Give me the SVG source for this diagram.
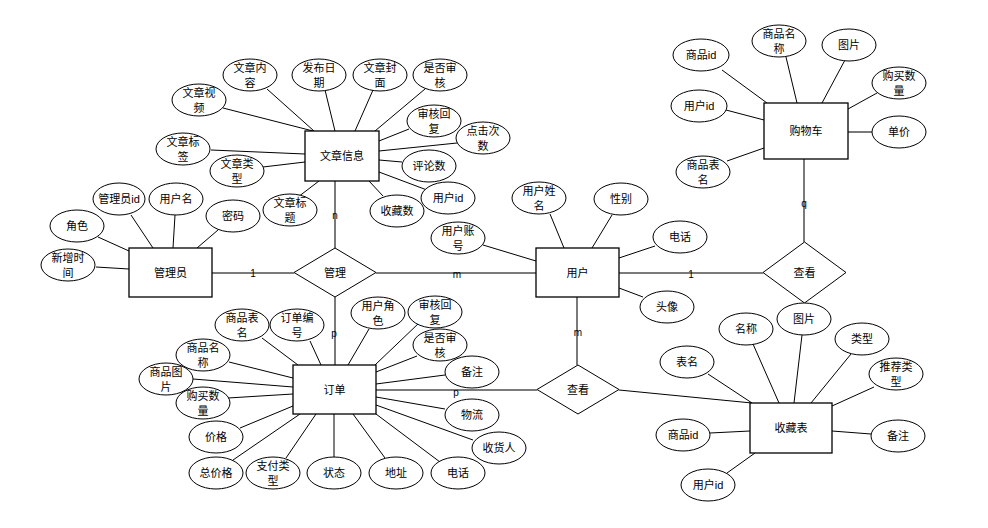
<svg xmlns="http://www.w3.org/2000/svg" width="988" height="528" viewBox="0 0 988 528">
<style>
text{font-family:"Liberation Sans","Noto Sans CJK SC",sans-serif;font-size:11px;fill:#000;text-anchor:middle;dominant-baseline:central}
.lbl{font-size:10px}
ellipse{fill:#fff;stroke:#000;stroke-width:1}
rect.e{fill:#fff;stroke:#000;stroke-width:1.3}
polygon.r{fill:#fff;stroke:#000;stroke-width:1}
.a{stroke:#000;stroke-width:1;fill:none}
.rel{stroke:#7a7a7a;stroke-width:2;fill:none}
</style>
<rect width="988" height="528" fill="#fff"/>
<g id="connectors">
<line class="rel" x1="335" y1="181" x2="335" y2="248"/>
<line class="rel" x1="212" y1="273" x2="294" y2="273"/>
<line class="rel" x1="376" y1="273" x2="536" y2="273"/>
<line class="rel" x1="335" y1="297" x2="335" y2="365"/>
<line class="rel" x1="619" y1="273" x2="763" y2="273"/>
<line class="rel" x1="804" y1="159" x2="804" y2="242"/>
<line class="rel" x1="577" y1="297" x2="577" y2="365"/>
<line class="rel" x1="376" y1="390" x2="537" y2="390"/>
<line class="a" x1="619" y1="390" x2="752" y2="403"/>
<line class="rel" x1="848" y1="132" x2="873" y2="132"/>
<!-- article -->
<line class="a" x1="223" y1="108" x2="313" y2="131"/>
<line class="a" x1="267" y1="89" x2="314" y2="131"/>
<line class="a" x1="325" y1="90" x2="335" y2="131"/>
<line class="a" x1="373" y1="90" x2="355" y2="131"/>
<line class="a" x1="425" y1="89" x2="375" y2="131"/>
<line class="a" x1="409" y1="129" x2="379" y2="141"/>
<line class="a" x1="457" y1="143" x2="379" y2="151"/>
<line class="a" x1="402" y1="162" x2="379" y2="160"/>
<line class="a" x1="427" y1="190" x2="379" y2="172"/>
<line class="a" x1="383" y1="196" x2="369" y2="181"/>
<line class="a" x1="298" y1="197" x2="319" y2="181"/>
<line class="a" x1="211" y1="150" x2="305" y2="154"/>
<line class="a" x1="263" y1="167" x2="305" y2="162"/>
<!-- admin -->
<line class="a" x1="98" y1="237" x2="129" y2="251"/>
<line class="a" x1="131" y1="215" x2="153" y2="248"/>
<line class="a" x1="175" y1="215" x2="173" y2="248"/>
<line class="a" x1="218" y1="230" x2="197" y2="248"/>
<line class="a" x1="96" y1="267" x2="129" y2="269"/>
<!-- user -->
<line class="a" x1="550" y1="214" x2="564" y2="248"/>
<line class="a" x1="612" y1="215" x2="592" y2="248"/>
<line class="a" x1="655" y1="246" x2="619" y2="258"/>
<line class="a" x1="483" y1="245" x2="536" y2="261"/>
<line class="a" x1="643" y1="297" x2="619" y2="288"/>
<!-- cart -->
<line class="a" x1="722" y1="70" x2="767" y2="103"/>
<line class="a" x1="786" y1="57" x2="797" y2="103"/>
<line class="a" x1="845" y1="60" x2="822" y2="103"/>
<line class="a" x1="877" y1="93" x2="848" y2="109"/>
<line class="a" x1="726" y1="110" x2="764" y2="120"/>
<line class="a" x1="727" y1="161" x2="764" y2="148"/>
<!-- order -->
<line class="a" x1="262" y1="338" x2="298" y2="365"/>
<line class="a" x1="310" y1="341" x2="321" y2="365"/>
<line class="a" x1="369" y1="329" x2="348" y2="365"/>
<line class="a" x1="419" y1="323" x2="375" y2="365"/>
<line class="a" x1="417" y1="356" x2="376" y2="372"/>
<line class="a" x1="445" y1="375" x2="376" y2="384"/>
<line class="a" x1="445" y1="409" x2="376" y2="397"/>
<line class="a" x1="473" y1="440" x2="376" y2="405"/>
<line class="a" x1="440" y1="462" x2="376" y2="414"/>
<line class="a" x1="385" y1="458" x2="353" y2="414"/>
<line class="a" x1="334" y1="457" x2="334" y2="414"/>
<line class="a" x1="286" y1="458" x2="316" y2="414"/>
<line class="a" x1="233" y1="460" x2="300" y2="414"/>
<line class="a" x1="240" y1="428" x2="293" y2="406"/>
<line class="a" x1="228" y1="398" x2="293" y2="394"/>
<line class="a" x1="193" y1="379" x2="293" y2="387"/>
<line class="a" x1="229" y1="362" x2="293" y2="378"/>
<!-- favorites -->
<line class="a" x1="708" y1="374" x2="752" y2="403"/>
<line class="a" x1="753" y1="344" x2="779" y2="403"/>
<line class="a" x1="802" y1="335" x2="794" y2="403"/>
<line class="a" x1="851" y1="354" x2="811" y2="403"/>
<line class="a" x1="874" y1="387" x2="832" y2="406"/>
<line class="a" x1="710" y1="433" x2="750" y2="431"/>
<line class="a" x1="871" y1="434" x2="832" y2="431"/>
<line class="a" x1="727" y1="473" x2="755" y2="453"/>
</g>
<g id="labels">
<text class="lbl" x="335" y="215">n</text>
<text class="lbl" x="253" y="273">1</text>
<text class="lbl" x="457" y="274">m</text>
<text class="lbl" x="334" y="333">p</text>
<text class="lbl" x="691" y="274">1</text>
<text class="lbl" x="804" y="203">q</text>
<text class="lbl" x="578" y="332">m</text>
<text class="lbl" x="456" y="392">p</text>
</g>
<g id="article">
<rect class="e" x="305" y="131" width="74" height="50"/>
<text x="342" y="156">文章信息</text>
</g>
<g id="article-attrs">
<ellipse cx="250" cy="75" rx="27" ry="16"/><text x="250" y="68">文章内</text><text x="250" y="83">容</text>
<ellipse cx="319" cy="75" rx="27" ry="16"/><text x="319" y="68">发布日</text><text x="319" y="83">期</text>
<ellipse cx="380" cy="75" rx="27" ry="16"/><text x="380" y="68">文章封</text><text x="380" y="83">面</text>
<ellipse cx="440" cy="75" rx="27" ry="16"/><text x="440" y="68">是否审</text><text x="440" y="83">核</text>
<ellipse cx="199" cy="100" rx="27" ry="16"/><text x="199" y="93">文章视</text><text x="199" y="108">频</text>
<ellipse cx="434" cy="121" rx="27" ry="16"/><text x="434" y="114">审核回</text><text x="434" y="129">复</text>
<ellipse cx="483" cy="138" rx="27" ry="16"/><text x="483" y="131">点击次</text><text x="483" y="146">数</text>
<ellipse cx="429" cy="166" rx="27" ry="16"/><text x="429" y="166">评论数</text>
<ellipse cx="448" cy="198" rx="27" ry="16"/><text x="448" y="198">用户id</text>
<ellipse cx="397" cy="211" rx="27" ry="16"/><text x="397" y="211">收藏数</text>
<ellipse cx="290" cy="210" rx="27" ry="16"/><text x="290" y="203">文章标</text><text x="290" y="218">题</text>
<ellipse cx="183" cy="149" rx="27" ry="16"/><text x="183" y="142">文章标</text><text x="183" y="157">签</text>
<ellipse cx="237" cy="171" rx="27" ry="16"/><text x="237" y="164">文章类</text><text x="237" y="179">型</text>
</g>
<g id="admin">
<rect class="e" x="129" y="248" width="83" height="49"/>
<text x="170.5" y="273">管理员</text>
</g>
<g id="admin-attrs">
<ellipse cx="119" cy="199" rx="26" ry="16"/><text x="119" y="199">管理员id</text>
<ellipse cx="176" cy="199" rx="27" ry="16"/><text x="176" y="199">用户名</text>
<ellipse cx="77" cy="226" rx="27" ry="16"/><text x="77" y="226">角色</text>
<ellipse cx="233" cy="216" rx="27" ry="16"/><text x="233" y="216">密码</text>
<ellipse cx="68" cy="265" rx="27" ry="16"/><text x="68" y="258">新增时</text><text x="68" y="273">间</text>
</g>
<g id="manage">
<polygon class="r" points="294,272.5 335,248 376,272.5 335,297"/>
<text x="335" y="273">管理</text>
</g>
<g id="user">
<rect class="e" x="536" y="248" width="83" height="49"/>
<text x="577.5" y="273">用户</text>
</g>
<g id="user-attrs">
<ellipse cx="539" cy="198" rx="27" ry="16"/><text x="539" y="191">用户姓</text><text x="539" y="206">名</text>
<ellipse cx="621" cy="199" rx="27" ry="16"/><text x="621" y="199">性别</text>
<ellipse cx="680" cy="237" rx="27" ry="16"/><text x="680" y="237">电话</text>
<ellipse cx="458" cy="238" rx="27" ry="16"/><text x="458" y="231">用户账</text><text x="458" y="246">号</text>
<ellipse cx="667" cy="307" rx="27" ry="16"/><text x="667" y="307">头像</text>
</g>
<g id="cart">
<rect class="e" x="764" y="103" width="84" height="56"/>
<text x="806" y="131">购物车</text>
</g>
<g id="cart-attrs">
<ellipse cx="701" cy="55" rx="28" ry="16"/><text x="701" y="55">商品id</text>
<ellipse cx="779" cy="41" rx="27" ry="16"/><text x="779" y="34">商品名</text><text x="779" y="49">称</text>
<ellipse cx="849" cy="45" rx="27" ry="16"/><text x="849" y="45">图片</text>
<ellipse cx="899" cy="83" rx="27" ry="16"/><text x="899" y="76">购买数</text><text x="899" y="91">量</text>
<ellipse cx="899" cy="132" rx="27" ry="16"/><text x="899" y="132">单价</text>
<ellipse cx="699" cy="106" rx="28" ry="16"/><text x="699" y="106">用户id</text>
<ellipse cx="703" cy="172" rx="27" ry="16"/><text x="703" y="165">商品表</text><text x="703" y="180">名</text>
</g>
<g id="view-cart">
<polygon class="r" points="763,272.5 804.5,242 846,272.5 804.5,303"/>
<text x="804.5" y="273">查看</text>
</g>
<g id="order">
<rect class="e" x="293" y="365" width="83" height="49"/>
<text x="334.5" y="390">订单</text>
</g>
<g id="order-attrs">
<ellipse cx="242" cy="325" rx="27" ry="16"/><text x="242" y="318">商品表</text><text x="242" y="333">名</text>
<ellipse cx="297" cy="325" rx="27" ry="16"/><text x="297" y="318">订单编</text><text x="297" y="333">号</text>
<ellipse cx="378" cy="313" rx="27" ry="16"/><text x="378" y="306">用户角</text><text x="378" y="321">色</text>
<ellipse cx="435" cy="312" rx="27" ry="16"/><text x="435" y="305">审核回</text><text x="435" y="320">复</text>
<ellipse cx="440" cy="345" rx="27" ry="16"/><text x="440" y="338">是否审</text><text x="440" y="353">核</text>
<ellipse cx="472" cy="372" rx="27" ry="16"/><text x="472" y="372">备注</text>
<ellipse cx="472" cy="415" rx="27" ry="16"/><text x="472" y="415">物流</text>
<ellipse cx="499" cy="448" rx="27" ry="16"/><text x="499" y="448">收货人</text>
<ellipse cx="458" cy="473" rx="27" ry="16"/><text x="458" y="473">电话</text>
<ellipse cx="396" cy="473" rx="27" ry="16"/><text x="396" y="473">地址</text>
<ellipse cx="334" cy="473" rx="27" ry="16"/><text x="334" y="473">状态</text>
<ellipse cx="273" cy="473" rx="27" ry="16"/><text x="273" y="466">支付类</text><text x="273" y="481">型</text>
<ellipse cx="216" cy="473" rx="27" ry="16"/><text x="216" y="473">总价格</text>
<ellipse cx="216" cy="437" rx="27" ry="16"/><text x="216" y="437">价格</text>
<ellipse cx="203" cy="355" rx="27" ry="16"/><text x="203" y="348">商品名</text><text x="203" y="363">称</text>
<ellipse cx="166" cy="379" rx="27" ry="16"/><text x="166" y="372">商品图</text><text x="166" y="387">片</text>
<ellipse cx="203" cy="403" rx="27" ry="16"/><text x="203" y="396">购买数</text><text x="203" y="411">量</text>
</g>
<g id="view-fav">
<polygon class="r" points="537,389.5 578,365 619,389.5 578,414"/>
<text x="578" y="390">查看</text>
</g>
<g id="favorites">
<rect class="e" x="750" y="403" width="82" height="50"/>
<text x="791" y="428">收藏表</text>
</g>
<g id="fav-attrs">
<ellipse cx="687" cy="362" rx="27" ry="16"/><text x="687" y="362">表名</text>
<ellipse cx="746" cy="329" rx="27" ry="16"/><text x="746" y="329">名称</text>
<ellipse cx="804" cy="319" rx="27" ry="16"/><text x="804" y="319">图片</text>
<ellipse cx="862" cy="339" rx="27" ry="16"/><text x="862" y="339">类型</text>
<ellipse cx="896" cy="374" rx="27" ry="16"/><text x="896" y="367">推荐类</text><text x="896" y="382">型</text>
<ellipse cx="683" cy="435" rx="27" ry="16"/><text x="683" y="435">商品id</text>
<ellipse cx="898" cy="436" rx="27" ry="16"/><text x="898" y="436">备注</text>
<ellipse cx="708" cy="485" rx="27" ry="16"/><text x="708" y="485">用户id</text>
</g>
</svg>
